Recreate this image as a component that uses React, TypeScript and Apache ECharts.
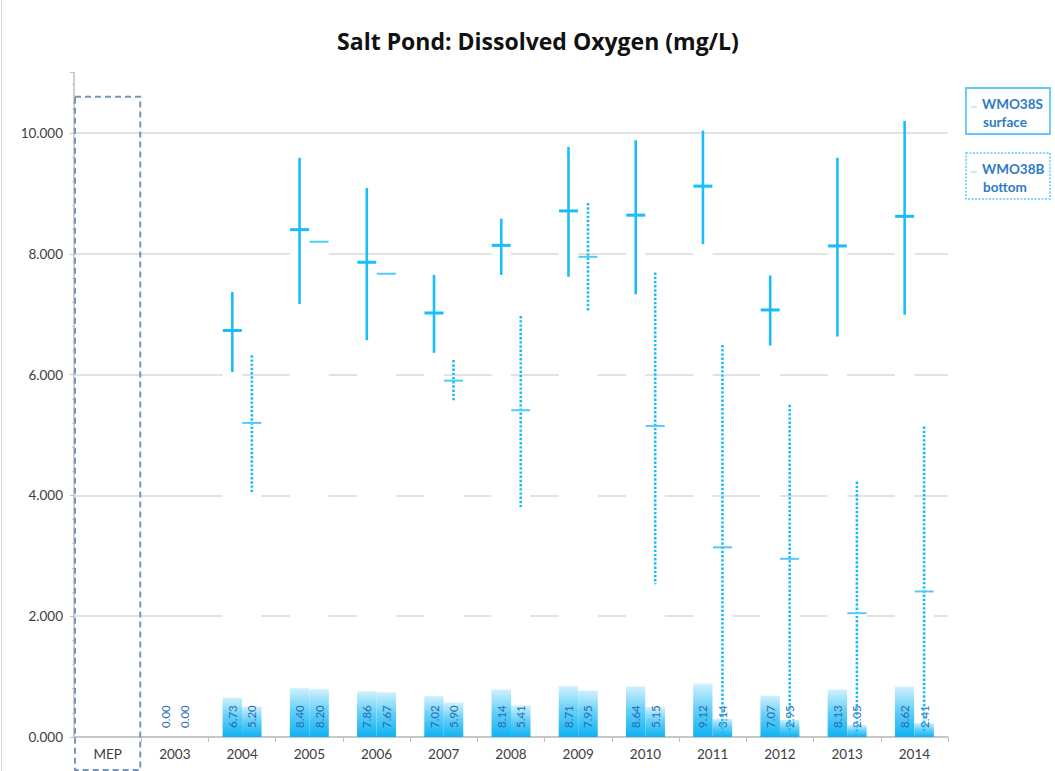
import React, { useEffect, useRef } from 'react';
import * as echarts from 'echarts';

const categories = ['MEP', '2003', '2004', '2005', '2006', '2007', '2008', '2009', '2010', '2011', '2012', '2013', '2014'];
const surfaceMean = [null, 0, 6.73, 8.4, 7.86, 7.02, 8.14, 8.71, 8.64, 9.12, 7.07, 8.13, 8.62];
const bottomMean = [null, 0, 5.2, 8.2, 7.67, 5.9, 5.41, 7.95, 5.15, 3.14, 2.95, 2.05, 2.41];
const surfaceMax = [null, null, 7.37, 9.59, 9.09, 7.65, 8.58, 9.77, 9.88, 10.04, 7.64, 9.59, 10.2];
const surfaceMin = [null, null, 6.04, 7.17, 6.57, 6.36, 7.65, 7.62, 7.33, 8.16, 6.48, 6.63, 6.99];
const bottomMax = [null, null, 6.32, null, null, 6.24, 6.97, 8.84, 7.69, 6.49, 5.5, 4.23, 5.14];
const bottomMin = [null, null, 4.04, null, null, 5.55, 3.81, 7.04, 2.53, 0.05, 0.05, 0.05, 0.05];
const yTicks = [0, 2, 4, 6, 8, 10];

const FONT = 'Lato, "Open Sans", sans-serif';
const BLUE = '#19bdfb';
const LABEL_BLUE = '#2b68b0';

const barGradient = new echarts.graphic.LinearGradient(0, 0, 0, 1, [
  { offset: 0, color: '#ffffff' },
  { offset: 0.902, color: '#ffffff' },
  { offset: 0.905, color: '#cdeffd' },
  { offset: 0.95, color: '#62cff8' },
  { offset: 1, color: '#0fb2f2' },
]);

function errorSeries(name: string, mean: (number | null)[], lo: (number | null)[], hi: (number | null)[], side: number, dotted: boolean) {
  return {
    type: 'custom',
    name,
    z: 5,
    data: categories.map((_, i) => [i, mean[i] ?? NaN, lo[i] ?? NaN, hi[i] ?? NaN]),
    renderItem: (params: any, api: any) => {
      const i = api.value(0);
      const m = api.value(1);
      const l = api.value(2);
      const h = api.value(3);
      if (!(m > 0)) return { type: 'group', children: [] };
      const band = api.size([1, 0])[0];
      const c = api.coord([i, m]);
      const x = c[0] + side * band * 0.145;
      const children: any[] = [];
      if (!isNaN(l) && !isNaN(h)) {
        const yh = api.coord([i, h])[1];
        const yl = api.coord([i, l])[1];
        children.push({
          type: 'line',
          shape: { x1: x, y1: yh, x2: x, y2: yl },
          style: dotted
            ? { stroke: BLUE, lineWidth: 2.6, lineDash: [2.4, 1.8] }
            : { stroke: BLUE, lineWidth: 2.6 },
        });
      }
      children.push({
        type: 'line',
        shape: { x1: x - 9.5, y1: c[1], x2: x + 9.5, y2: c[1] },
        style: dotted
          ? { stroke: '#4fcbfb', lineWidth: 2 }
          : { stroke: BLUE, lineWidth: 3 },
      });
      return { type: 'group', children };
    },
  };
}

function barSeries(name: string, values: (number | null)[]) {
  return {
    type: 'bar',
    name,
    data: values,
    barWidth: '29%',
    barGap: '0%',
    z: 2,
    itemStyle: { color: barGradient },
    label: {
      show: true,
      position: 'insideBottom',
      rotate: 90,
      align: 'left',
      verticalAlign: 'middle',
      distance: 9,
      fontSize: 11.5,
      fontFamily: FONT,
      color: LABEL_BLUE,
      formatter: (p: any) => Number(p.value).toFixed(2),
    },
  };
}

function legendBox(id: string, y: number, line1: string, line2: string, dotted: boolean) {
  return {
    type: 'group',
    id,
    children: [
      {
        type: 'rect',
        shape: { x: 966, y, width: 84, height: 46 },
        style: dotted
          ? { fill: '#fff', stroke: '#5cc8f5', lineWidth: 1.5, lineDash: [2, 1.5] }
          : { fill: '#fff', stroke: '#5cc8f5', lineWidth: 1.8 },
      },
      {
        type: 'line',
        shape: { x1: 971, y1: y + 19, x2: 977, y2: y + 19 },
        style: { stroke: '#8fd9f8', lineWidth: 1 },
      },
      {
        type: 'text',
        style: { x: 982, y: y + 16, text: line1, fill: '#2e7ac4', font: `bold 13.5px ${FONT}`, textVerticalAlign: 'middle' },
      },
      {
        type: 'text',
        style: { x: 983, y: y + 33.5, text: line2, fill: '#2e7ac4', font: `bold 13.5px ${FONT}`, textVerticalAlign: 'middle' },
      },
    ],
  };
}

export default function App() {
  const ref = useRef<HTMLDivElement>(null);
  useEffect(() => {
    const chart = echarts.init(ref.current!, null, { renderer: 'svg' });
    const gridColors = yTicks.map(() => '#d9d9d9').concat(['rgba(0,0,0,0)']);
    chart.setOption({
      animation: false,
      backgroundColor: '#ffffff',
      title: {
        text: 'Salt Pond: Dissolved Oxygen (mg/L)',
        left: 533,
        textAlign: 'center',
        top: 24,
        textStyle: { fontFamily: '"Open Sans", Lato, sans-serif', fontWeight: 'bold', fontSize: 23, color: '#111111' },
      },
      grid: { left: 74, right: 107, top: 72.6, bottom: 34 },
      xAxis: {
        type: 'category',
        data: categories,
        axisLine: { lineStyle: { color: '#bfbfbf', width: 1.5 } },
        axisTick: { show: true, length: 5, lineStyle: { color: '#bfbfbf' } },
        axisLabel: { color: '#404040', fontSize: 13.5, fontFamily: FONT, margin: 10 },
      },
      yAxis: {
        type: 'value',
        min: 0,
        max: 11,
        interval: 2,
        axisLine: { show: true, lineStyle: { color: '#bfbfbf', width: 1.5 } },
        axisTick: { show: true, length: 4, lineStyle: { color: '#bfbfbf' } },
        minorTick: { show: true, splitNumber: 5, length: 2, lineStyle: { color: '#c8c8c8' } },
        splitLine: { show: true, lineStyle: { color: gridColors, width: 1.5 } },
        axisLabel: {
          color: '#404040',
          fontSize: 13.5,
          fontFamily: FONT,
          margin: 11,
          formatter: (v: number) => (yTicks.includes(v) ? v.toFixed(3) : ''),
        },
      },
      series: [
        barSeries('WMO38S surface', surfaceMean),
        barSeries('WMO38B bottom', bottomMean),
        errorSeries('WMO38S surface range', surfaceMean, surfaceMin, surfaceMax, -1, false),
        errorSeries('WMO38B bottom range', bottomMean, bottomMin, bottomMax, 1, true),
      ],
      graphic: [
        legendBox('leg1', 88, 'WMO38S', 'surface', false),
        legendBox('leg2', 153, 'WMO38B', 'bottom', true),
        {
          type: 'line',
          id: 'border',
          shape: { x1: 1.5, y1: 0, x2: 1.5, y2: 771 },
          style: { stroke: '#d9d9d9', lineWidth: 1 },
        },
      ],
    });
    const c0 = chart.convertToPixel({ xAxisIndex: 0 }, 0) as number;
    const c1 = chart.convertToPixel({ xAxisIndex: 0 }, 1) as number;
    const bw = c1 - c0;
    const yTop = chart.convertToPixel({ yAxisIndex: 0 }, 10.6) as number;
    const yZero = chart.convertToPixel({ yAxisIndex: 0 }, 0) as number;
    chart.setOption({
      graphic: [
        {
          type: 'rect',
          id: 'mep',
          z: 10,
          shape: { x: c0 - bw / 2 + 1, y: yTop, width: bw - 2, height: yZero + 33 - yTop },
          style: { fill: 'none', stroke: '#7a93b8', lineWidth: 2, lineDash: [6, 4] },
        },
      ],
    });
    return () => chart.dispose();
  }, []);
  return <div ref={ref} style={{ position: 'fixed', left: 0, top: 0, width: 1055, height: 771 }} />;
}
